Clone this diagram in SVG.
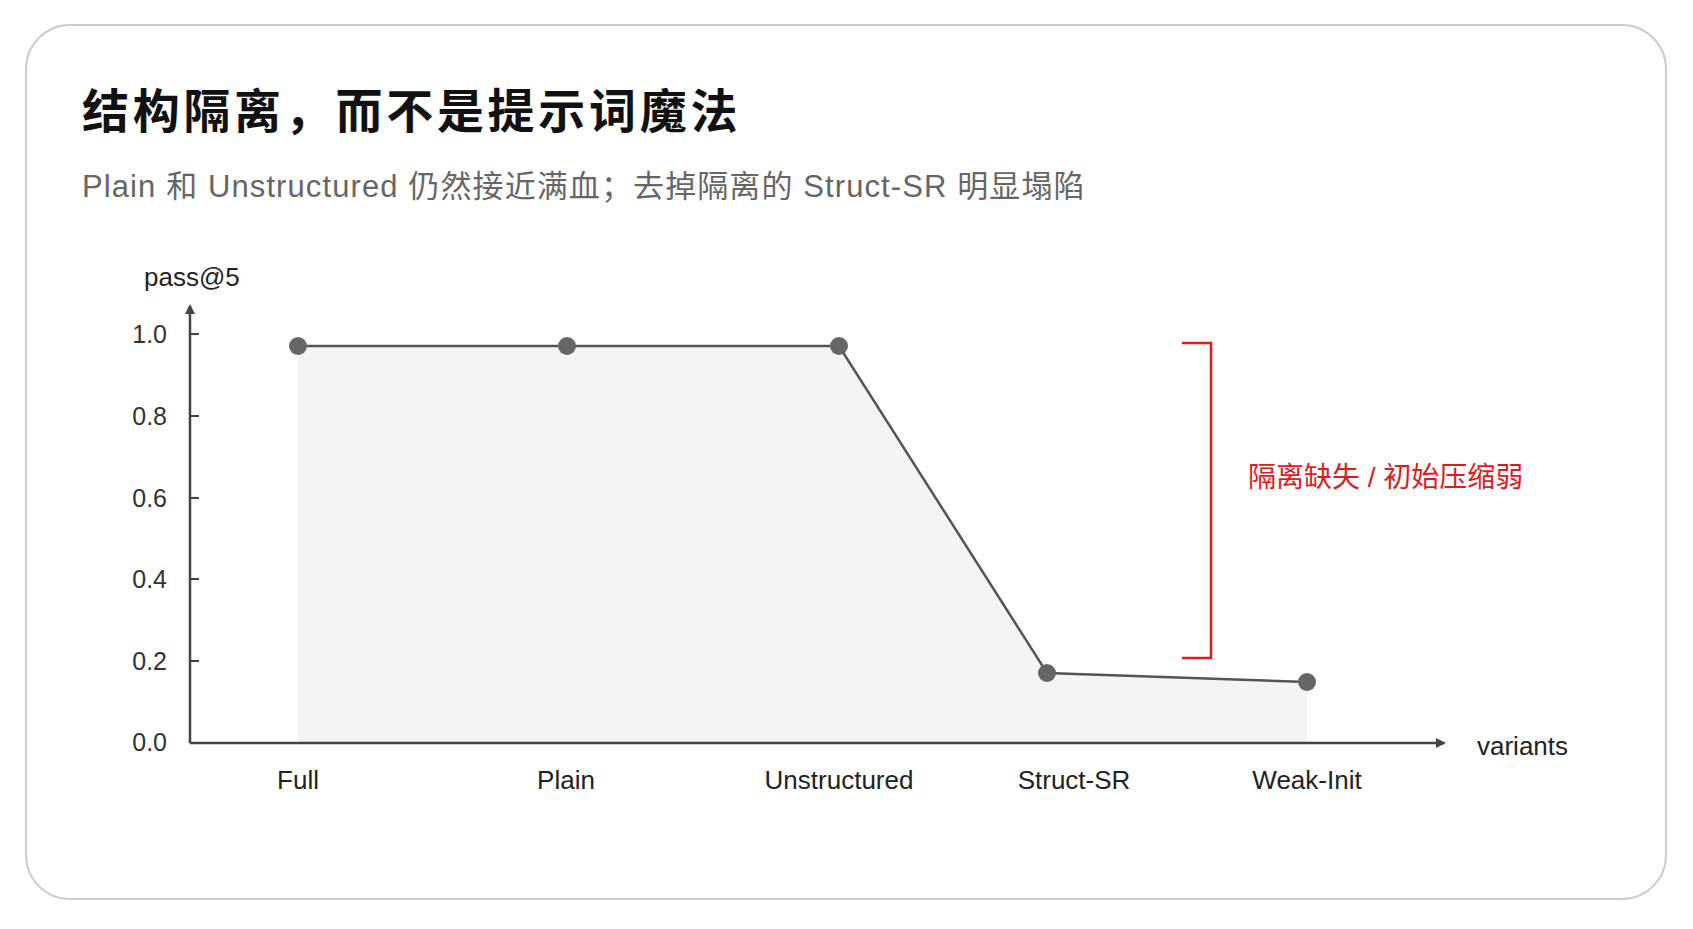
<svg xmlns="http://www.w3.org/2000/svg" width="1693" height="929" viewBox="0 0 1693 929">
<style>
text{font-family:"Liberation Sans","Noto Sans CJK SC",sans-serif}
.tk{font-size:25px;fill:#333;text-anchor:end}
.xl{font-size:26px;fill:#222;text-anchor:middle}
.ax{stroke:#444;stroke-width:2.5;fill:none}
.pt{fill:#666}
</style>
<defs><marker id="ar" markerWidth="10" markerHeight="10" refX="8" refY="5" orient="auto" markerUnits="userSpaceOnUse"><path d="M0,0 L10,5 L0,10z" fill="#444"/></marker></defs>
<rect x="0" y="0" width="1693" height="929" fill="#fff"/>
<rect x="26" y="25" width="1640" height="874" rx="44" fill="#fff" stroke="#ccc" stroke-width="2"/>
<text x="82" y="128" font-size="47" font-weight="bold" fill="#111" letter-spacing="3.7">结构隔离，而不是提示词魔法</text>
<text x="82" y="197" font-size="31" fill="#666" letter-spacing="1.1">Plain 和 Unstructured 仍然接近满血；去掉隔离的 Struct-SR 明显塌陷</text>
<text x="144" y="286" font-size="26" fill="#222">pass@5</text>
<polygon points="298,346 567,346 839,346 1047,673 1307,682 1307,743 298,743" fill="#f4f4f4"/>
<g id="connectors">
<line class="ax" x1="190" y1="743" x2="190" y2="306" marker-end="url(#ar)"/>
<line class="ax" x1="190" y1="743" x2="1444" y2="743" marker-end="url(#ar)"/>
<g stroke="#444" stroke-width="2"><line x1="190" y1="334" x2="199" y2="334"/><line x1="190" y1="416" x2="199" y2="416"/><line x1="190" y1="498" x2="199" y2="498"/><line x1="190" y1="579" x2="199" y2="579"/><line x1="190" y1="661" x2="199" y2="661"/></g>
<polyline points="298,346 567,346 839,346 1047,673 1307,682" fill="none" stroke="#555" stroke-width="2.5"/>
<path d="M1182,343 H1211 V658 H1182" fill="none" stroke="#e01b1b" stroke-width="2.5"/>
</g>
<text class="tk" x="167" y="343">1.0</text>
<text class="tk" x="167" y="425">0.8</text>
<text class="tk" x="167" y="507">0.6</text>
<text class="tk" x="167" y="588">0.4</text>
<text class="tk" x="167" y="670">0.2</text>
<text class="tk" x="167" y="751">0.0</text>
<g id="full"><circle class="pt" cx="298" cy="346" r="9"/><text class="xl" x="298" y="789">Full</text></g>
<g id="plain"><circle class="pt" cx="567" cy="346" r="9"/><text class="xl" x="566" y="789">Plain</text></g>
<g id="unstructured"><circle class="pt" cx="839" cy="346" r="9"/><text class="xl" x="839" y="789">Unstructured</text></g>
<g id="struct-sr"><circle class="pt" cx="1047" cy="673" r="9"/><text class="xl" x="1074" y="789">Struct-SR</text></g>
<g id="weak-init"><circle class="pt" cx="1307" cy="682" r="9"/><text class="xl" x="1307" y="789">Weak-Init</text></g>
<text x="1477" y="755" font-size="26" fill="#222">variants</text>
<text x="1248" y="487" font-size="28" fill="#e01b1b">隔离缺失 / 初始压缩弱</text>
</svg>
